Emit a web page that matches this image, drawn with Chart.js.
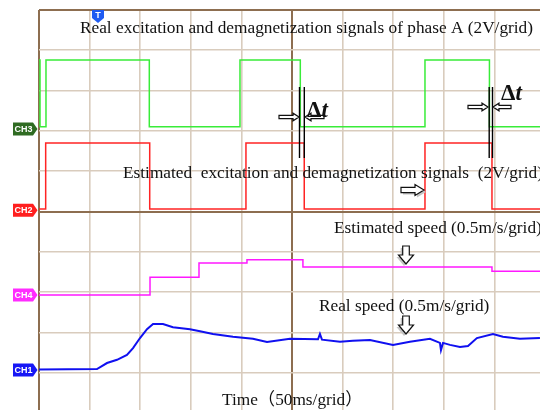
<!DOCTYPE html>
<html>
<head>
<meta charset="utf-8">
<script src="https://cdn.jsdelivr.net/npm/chart.js@4.4.0/dist/chart.umd.min.js"></script>
<style>
  html, body { margin: 0; padding: 0; background: #fff; }
  #wrap { width: 540px; height: 410px; overflow: hidden; position: relative; }
  canvas { display: block; }
</style>
</head>
<body>
<div id="wrap"><canvas id="scope" width="550" height="420"></canvas></div>
<script>
// Oscilloscope capture: 50 ms per grid horizontally, values in grid units vertically
// (0 = bottom of screen, 10 = top).

// CH3 - real excitation / demagnetization (green), step changes
const ch3Times  = [0, 1, 6.9, 109.0, 198.6, 258.2, 381.4, 445.1, 500];
const ch3Levels = [8.76, 7.10, 8.76, 7.10, 8.76, 7.10, 8.76, 7.10, 7.10];

// CH2 - estimated excitation / demagnetization (red)
const ch2Times  = [0, 6.6, 109.4, 204.5, 262.1, 381.4, 447.6, 500];
const ch2Levels = [5.06, 6.70, 5.06, 6.70, 5.06, 6.70, 5.06, 5.06];

// CH4 - estimated speed (magenta)
const ch4Times  = [0, 109.7, 158.1, 205.5, 260.8, 447.6, 500];
const ch4Levels = [2.93, 3.37, 3.72, 3.80, 3.62, 3.52, 3.52];

// CH1 - real speed (blue)
const ch1Times  = [0, 57.3, 67.2, 77.1, 86.9, 92.9, 99.8, 106.7, 112.7, 122.5, 132.4, 149.2,
                   159.1, 171.9, 191.7, 211.4, 225.3, 248.0, 275.7, 277.6, 279.6, 297.4, 310.2,
                   327.0, 349.8, 366.5, 386.3, 396.2, 397.2, 399.2, 406.1, 416.0, 423.9, 432.7,
                   448.6, 458.4, 475.2, 495.0];
const ch1Levels = [1.08, 1.09, 1.24, 1.32, 1.44, 1.61, 1.86, 2.08, 2.21, 2.21, 2.13, 2.08,
                   2.03, 1.96, 1.89, 1.84, 1.76, 1.84, 1.83, 1.96, 1.82, 1.77, 1.79,
                   1.81, 1.69, 1.77, 1.84, 1.74, 1.56, 1.74, 1.69, 1.64, 1.66, 1.86,
                   1.96, 1.89, 1.84, 1.86];

// channel tags on the left edge
const tagNames  = ["CH3", "CH2", "CH4", "CH1"];
const tagLevels = [7.05, 5.03, 2.93, 1.07];
const tagColors = ["#2f6b22", "#ff1f1f", "#ff2cff", "#1616f5"];

const GRID_LIGHT = "#d9ccbd";
const GRID_DARK  = "#8d6e50";
const SERIF = "'Liberation Serif', 'Times New Roman', 'Noto Sans CJK SC', serif";

function toPoints(times, levels) {
  return times.map((t, i) => ({ x: t, y: levels[i] }));
}

// hollow block arrow, pointing along the angle given
function hollowArrow(ctx, x, y, len, angle, shaftH, headH, headL, shadow) {
  ctx.save();
  ctx.translate(x, y);
  ctx.rotate(angle);
  const path = () => {
    ctx.beginPath();
    ctx.moveTo(0, -shaftH);
    ctx.lineTo(len - headL, -shaftH);
    ctx.lineTo(len - headL, -headH);
    ctx.lineTo(len, 0);
    ctx.lineTo(len - headL, headH);
    ctx.lineTo(len - headL, shaftH);
    ctx.lineTo(0, shaftH);
    ctx.closePath();
  };
  if (shadow) {
    ctx.save();
    ctx.translate(2, 2);
    path();
    ctx.fillStyle = "#c4c4c4";
    ctx.fill();
    ctx.restore();
  }
  path();
  ctx.fillStyle = "#fff";
  ctx.fill();
  ctx.lineWidth = 1.2;
  ctx.strokeStyle = "#111";
  ctx.stroke();
  ctx.restore();
}

const overlayPlugin = {
  id: "scopeOverlay",

  afterDatasetsDraw(chart) {
    const { ctx } = chart;
    ctx.save();

    // delta-t marker lines
    ctx.strokeStyle = "#000";
    ctx.lineWidth = 1.4;
    [299.5, 304.3, 489.2, 492.5].forEach(x => {
      ctx.beginPath();
      ctx.moveTo(x, 87);
      ctx.lineTo(x, 158);
      ctx.stroke();
    });

    // small arrows pointing at the delta-t lines
    hollowArrow(ctx, 279, 117, 20, 0, 1.7, 3.8, 6, false);
    hollowArrow(ctx, 324, 117, 19, Math.PI, 1.7, 3.8, 6, false);
    hollowArrow(ctx, 468, 107, 20, 0, 1.7, 3.8, 6, false);
    hollowArrow(ctx, 511, 107, 18, Math.PI, 1.7, 3.8, 6, false);

    // big hollow arrows next to the captions
    hollowArrow(ctx, 401, 190, 23, 0, 2.6, 5.5, 9, true);
    hollowArrow(ctx, 406, 246, 18, Math.PI / 2, 3.3, 7.5, 9, true);
    hollowArrow(ctx, 406, 316, 18, Math.PI / 2, 3.3, 7.5, 9, true);

    // captions
    ctx.fillStyle = "#111";
    ctx.textAlign = "left";
    ctx.textBaseline = "alphabetic";
    ctx.font = "17.3px " + SERIF;
    ctx.fillText("Real excitation and demagnetization signals of phase A (2V/grid)", 80, 33);
    ctx.fillText("Estimated  excitation and demagnetization signals  (2V/grid)", 123, 178);
    ctx.fillText("Estimated speed (0.5m/s/grid)", 334, 233);
    ctx.fillText("Real speed (0.5m/s/grid)", 319, 311);
    ctx.fillText("Time\uFF0850ms/grid\uFF09", 222, 405);

    // delta-t labels
    [[307, 117], [501, 100]].forEach(([x, y]) => {
      ctx.font = "bold 23px " + SERIF;
      ctx.fillText("\u0394", x, y);
      const w = ctx.measureText("\u0394").width;
      ctx.font = "italic bold 23px " + SERIF;
      ctx.fillText("t", x + w, y);
    });

    ctx.restore();
  },

  afterDraw(chart) {
    const { ctx, scales } = chart;
    ctx.save();

    // channel tags
    tagNames.forEach((name, i) => {
      const yc = scales.y.getPixelForValue(tagLevels[i]);
      ctx.beginPath();
      ctx.moveTo(13, yc - 6.5);
      ctx.lineTo(33, yc - 6.5);
      ctx.lineTo(37.5, yc);
      ctx.lineTo(33, yc + 6.5);
      ctx.lineTo(13, yc + 6.5);
      ctx.closePath();
      ctx.fillStyle = tagColors[i];
      ctx.fill();
      ctx.fillStyle = "#fff";
      ctx.font = "bold 9px 'Liberation Sans', Arial, sans-serif";
      ctx.textAlign = "center";
      ctx.textBaseline = "middle";
      ctx.fillText(name, 23.5, yc + 0.5);
    });

    // trigger marker
    ctx.beginPath();
    ctx.moveTo(92, 10);
    ctx.lineTo(104, 10);
    ctx.lineTo(104, 18);
    ctx.lineTo(98, 23);
    ctx.lineTo(92, 18);
    ctx.closePath();
    ctx.fillStyle = "#1f5cf2";
    ctx.fill();
    ctx.fillStyle = "#fff";
    ctx.font = "bold 9px 'Liberation Sans', Arial, sans-serif";
    ctx.textAlign = "center";
    ctx.textBaseline = "middle";
    ctx.fillText("T", 98, 15.5);

    ctx.restore();
  }
};

const traceStyle = {
  borderWidth: 1.5,
  pointRadius: 0,
  fill: false,
  tension: 0
};

new Chart(document.getElementById("scope"), {
  type: "line",
  data: {
    datasets: [
      { ...traceStyle, label: "CH3", data: toPoints(ch3Times, ch3Levels), borderColor: "#39ec39", stepped: "before" },
      { ...traceStyle, label: "CH2", data: toPoints(ch2Times, ch2Levels), borderColor: "#ff2424", stepped: "before" },
      { ...traceStyle, label: "CH4", data: toPoints(ch4Times, ch4Levels), borderColor: "#ff19ff", stepped: "before" },
      { ...traceStyle, label: "CH1", data: toPoints(ch1Times, ch1Levels), borderColor: "#1010f0", borderWidth: 2 }
    ]
  },
  plugins: [overlayPlugin],
  options: {
    responsive: false,
    animation: false,
    layout: { padding: { left: 39, top: 10, right: 5, bottom: 7 } },
    scales: {
      x: {
        type: "linear",
        min: 0,
        max: 500,
        ticks: { display: false, stepSize: 50 },
        border: { display: false },
        grid: {
          drawTicks: false,
          color: c => (c.tick.value === 0 || c.tick.value === 250) ? GRID_DARK : GRID_LIGHT,
          lineWidth: c => (c.tick.value === 0 || c.tick.value === 250) ? 2 : 1.6
        }
      },
      y: {
        min: 0,
        max: 10,
        ticks: { display: false, stepSize: 1 },
        border: { display: false },
        grid: {
          drawTicks: false,
          color: c => (c.tick.value === 10 || c.tick.value === 5) ? GRID_DARK : GRID_LIGHT,
          lineWidth: c => (c.tick.value === 10 || c.tick.value === 5) ? 2 : 1.6
        }
      }
    },
    plugins: {
      legend: { display: false },
      tooltip: { enabled: false }
    }
  }
});
</script>
</body>
</html>
